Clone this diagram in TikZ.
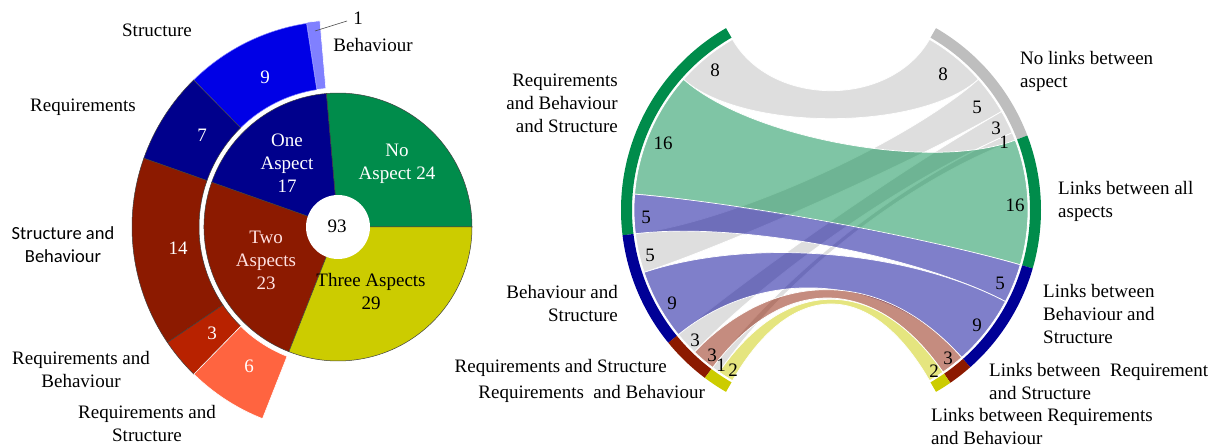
\documentclass[tikz,border=0pt]{standalone}
\usepackage{fontspec}
\setmainfont{Liberation Serif}
\newfontfamily\carl{Carlito}
\definecolor{cGreen}{RGB}{0,140,75}
\definecolor{cYellow}{RGB}{204,204,0}
\definecolor{cDRed}{RGB}{140,26,0}
\definecolor{cDBlue}{RGB}{0,0,140}
\definecolor{cBlue}{RGB}{0,0,230}
\definecolor{cLBlue}{RGB}{128,128,255}
\definecolor{cRed}{RGB}{184,34,0}
\definecolor{cCoral}{RGB}{255,100,64}
\definecolor{cGrey}{RGB}{190,190,190}
\definecolor{cBandBlue}{RGB}{0,0,150}
\definecolor{cPink}{RGB}{255,225,225}
\newcommand\annsec[5]{\path[#1] (#2:#4) arc[start angle=#2,end angle=#3,radius=#4] -- (#3:#5) arc[start angle=#3,end angle=#2,radius=#5] -- cycle;}
\newcommand\piesec[4]{\path[#1] (0,0) -- (#2:#4) arc[start angle=#2,end angle=#3,radius=#4] -- cycle;}
\newcommand\ribbon[6]{\path[#1] (#2:197pt) arc[start angle=#2,end angle=#3,radius=197pt] .. controls (#3:#6) and (#4:#6) .. (#4:197pt) arc[start angle=#4,end angle=#5,radius=197pt] .. controls (#5:#6) and (#2:#6) .. (#2:197pt) -- cycle;}
\tikzset{
  lbl/.style={font=\fontsize{19}{23}\selectfont, inner sep=0pt, align=center},
  num/.style={font=\fontsize{19}{23}\selectfont, inner sep=0pt},
  seg/.style={draw=black!75, line width=0.5pt},
  rib/.style={fill=#1, fill opacity=0.5, draw=white, line width=0.7pt},
}
\begin{document}
\begin{tikzpicture}[x=1pt,y=1pt]
\useasboundingbox (0,0) rectangle (1218,447);
% ---------- sunburst ----------
\begin{scope}[shift={(338,220)}]
  \piesec{fill=cGreen, seg}{0}{95}{134pt}
  \piesec{fill=cDBlue, seg}{95}{160.5}{134pt}
  \piesec{fill=cDRed, seg}{160.5}{248.5}{134pt}
  \piesec{fill=cYellow, seg}{248.5}{360}{134pt}
  \fill[white] (0,0) circle[radius=32pt];
  \annsec{fill=cLBlue, draw=white, line width=0.6pt}{95}{98.8}{139pt}{207pt}
  \annsec{fill=cBlue, draw=cLBlue, line width=0.5pt}{98.8}{134.5}{139pt}{206pt}
  \annsec{fill=cDBlue, seg}{134.5}{160.5}{139pt}{206pt}
  \annsec{fill=cDRed, seg}{160.5}{214.1}{139pt}{206pt}
  \annsec{fill=cRed, seg}{214.1}{225.6}{139pt}{206pt}
  \annsec{fill=cCoral, draw=white, line width=0.6pt}{225.6}{248.5}{139pt}{206pt}
\end{scope}
\coordinate (bhv) at (315,416);
\coordinate (bhvend) at (347,426);
\draw[black!70, line width=0.6pt] (bhv) -- (bhvend);
% inner labels
\node[num] (c93) at (337,221) {93};
\node[lbl, white] (pOne) at (287,284) {One\\Aspect\\17};
\node[lbl, white] (pNo) at (397,283) {No\\Aspect 24};
\node[lbl, cPink] (pTwo) at (266,187) {Two\\Aspects\\23};
\node[lbl] (pThree) at (371,155) {Three Aspects\\29};
\node[num, white] (o9) at (265,370) {9};
\node[num, white] (o7) at (202,312) {7};
\node[num, white] (o14) at (178,199) {14};
\node[num, white] (o3) at (212,114) {3};
\node[num, white] (o6) at (249,81) {6};
% outer labels
\node[lbl] (lStr) at (157,417) {Structure};
\node[lbl] (lReq) at (83,340) {Requirements};
\node[lbl, font=\carl\fontsize{18.5}{23}\selectfont] (lSB) at (63,202) {Structure and\\Behaviour};
\node[lbl] (lRB) at (81,77) {Requirements and\\Behaviour};
\node[lbl] (lRS) at (147,23) {Requirements and\\Structure};
\node[lbl] (lOne) at (358,429) {1};
\node[lbl] (lBeh) at (373,402) {Behaviour};
% ---------- chord diagram ----------
\begin{scope}[shift={(831,237)}]
  \ribbon{rib=cGrey}{120}{138.46}{41.54}{60}{118pt}
  \ribbon{rib=cGrey}{186.92}{198.46}{30}{41.54}{100pt}
  \ribbon{rib=cGrey}{219.23}{226.15}{23.08}{30}{84pt}
  \ribbon{rib=cGrey}{233.08}{235.38}{20.77}{23.08}{80pt}
  \ribbon{rib=cGreen}{138.46}{175.38}{-16.15}{20.77}{108pt}
  \ribbon{rib=cBandBlue}{175.38}{186.92}{-27.69}{-16.15}{95pt}
  \ribbon{rib=cBandBlue}{198.46}{219.23}{-48.46}{-27.69}{86pt}
  \ribbon{rib=cDRed}{226.15}{233.08}{-55.38}{-48.46}{79pt}
  \ribbon{rib=cYellow}{235.38}{240}{-60}{-55.38}{79pt}
  \annsec{fill=cGreen}{120}{186.92}{199pt}{210pt}
  \annsec{fill=cBandBlue}{186.92}{219.23}{199pt}{210pt}
  \annsec{fill=cDRed}{219.23}{233.08}{199pt}{210pt}
  \annsec{fill=cYellow}{233.08}{240}{199pt}{210pt}
  \annsec{fill=cGrey}{20.77}{60}{199pt}{210pt}
  \annsec{fill=cGreen}{-16.15}{20.77}{199pt}{210pt}
  \annsec{fill=cBandBlue}{-48.46}{-16.15}{199pt}{210pt}
  \annsec{fill=cDRed}{-55.38}{-48.46}{199pt}{210pt}
  \annsec{fill=cYellow}{-60}{-55.38}{199pt}{210pt}
\end{scope}
% chord numbers left
\node[num] (k8) at (715,377) {8};
\node[num] (k16) at (663,304) {16};
\node[num] (k5a) at (646,230) {5};
\node[num] (k5b) at (650,192) {5};
\node[num] (k9) at (672,144) {9};
\node[num] (k3a) at (695,107) {3};
\node[num] (k3b) at (712,92) {3};
\node[num] (k1) at (721,82) {1};
\node[num] (k2) at (733,77) {2};
% chord numbers right
\node[num] (m8) at (943,373) {8};
\node[num] (m5a) at (977,340) {5};
\node[num] (m3a) at (996,319) {3};
\node[num] (m1) at (1004,305) {1};
\node[num] (m16) at (1015,242) {16};
\node[num] (m5b) at (1000,164) {5};
\node[num] (m9) at (977,122) {9};
\node[num] (m3b) at (948,89) {3};
\node[num] (m2) at (934,76) {2};
% chord labels
\node[lbl, anchor=east, align=right] (cRBS) at (618,343.5) {Requirements\\and Behaviour\\and Structure};
\node[lbl, anchor=east, align=right] (cBS) at (618,143.5) {Behaviour and\\Structure};
\node[lbl, anchor=east] (cRS) at (667,79) {Requirements and Structure};
\node[lbl, anchor=east] (cRB) at (705,53) {Requirements\ \ and Behaviour};
\node[lbl, anchor=west, align=left] (cNo) at (1020,376) {No links between\\aspect};
\node[lbl, anchor=west, align=left] (cAll) at (1058,245.5) {Links between all\\aspects};
\node[lbl, anchor=west, align=left] (cLBS) at (1043,132.5) {Links between\\Behaviour and\\Structure};
\node[lbl, anchor=west, align=left] (cLRS) at (989,65.5) {Links between\ \ Requirement\\and Structure};
\node[lbl, anchor=west, align=left] (cLRB) at (931,20.5) {Links between Requirements\\and Behaviour};
\end{tikzpicture}
\end{document}
